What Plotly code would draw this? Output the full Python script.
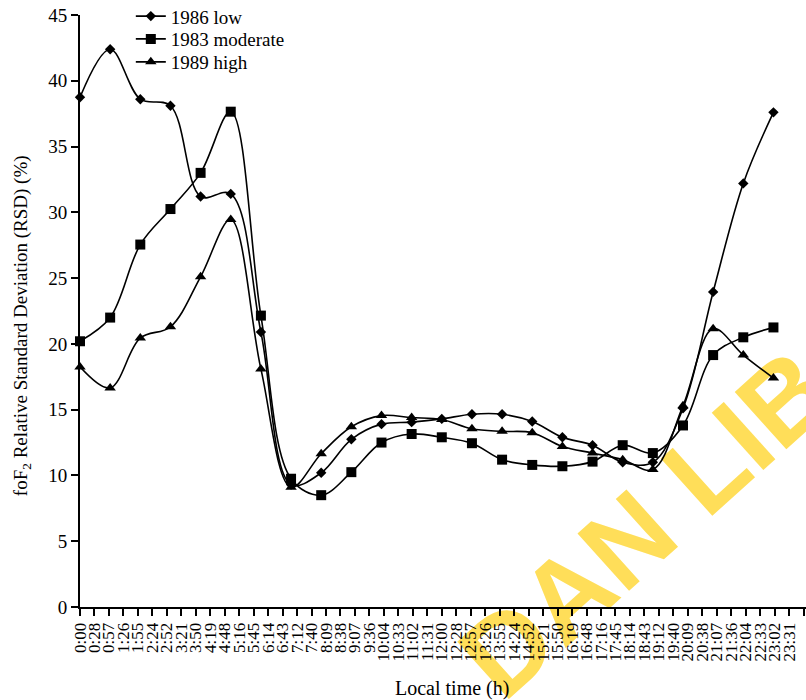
import plotly.graph_objects as go

# Hourly local time (h) of each sample
hours = list(range(24))

# foF2 relative standard deviation (%) for three solar-activity years
rsd_1986_low = [38.75, 42.4, 38.6, 38.1, 31.2, 31.4, 20.9, 9.3, 10.2, 12.75, 13.9, 14.05,
                14.3, 14.65, 14.65, 14.1, 12.9, 12.3, 11.0, 11.0, 15.1, 23.95, 32.2, 37.6]
rsd_1983_moderate = [20.2, 22.0, 27.55, 30.25, 33.0, 37.65, 22.15, 9.75, 8.5, 10.25, 12.5, 13.15,
                     12.9, 12.45, 11.2, 10.8, 10.7, 11.05, 12.3, 11.7, 13.8, 19.15, 20.5, 21.25]
rsd_1989_high = [18.25, 16.65, 20.45, 21.3, 25.1, 29.45, 18.1, 9.1, 11.65, 13.7, 14.55, 14.4,
                 14.25, 13.55, 13.35, 13.25, 12.2, 11.7, 11.2, 10.45, 15.3, 21.15, 19.15, 17.4]

# Time-axis ticks: 50 equal divisions of the day (0.48 h each)
tick_hours = [i * 0.48 for i in range(51)]
tick_labels = ["0:00", "0:28", "0:57", "1:26", "1:55", "2:24", "2:52", "3:21", "3:50", "4:19",
               "4:48", "5:16", "5:45", "6:14", "6:43", "7:12", "7:40", "8:09", "8:38", "9:07",
               "9:36", "10:04", "10:33", "11:02", "11:31", "12:00", "12:28", "12:57", "13:26",
               "13:55", "14:24", "14:52", "15:21", "15:50", "16:19", "16:48", "17:16", "17:45",
               "18:14", "18:43", "19:12", "19:40", "20:09", "20:38", "21:07", "21:36", "22:04",
               "22:33", "23:02", "23:31", "0:00"]

series = [
    ("1986 low", rsd_1986_low, "diamond", 8),
    ("1983 moderate", rsd_1983_moderate, "square", 10),
    ("1989 high", rsd_1989_high, "triangle-up", 10),
]

SERIF = "Liberation Serif, Times New Roman, serif"

# one legend box per series so the rows sit close together
legend_ids = ["legend", "legend2", "legend3"]
legend_tops = [1.0300, 0.9915, 0.9527]

fig = go.Figure()
for (name, values, symbol, size), lid in zip(series, legend_ids):
    fig.add_trace(go.Scatter(
        x=hours, y=values, name=name, mode="lines+markers", legend=lid,
        line=dict(color="black", width=1.6, shape="spline", smoothing=1.0),
        marker=dict(symbol=symbol, size=size, color="black", line=dict(width=0)),
        cliponaxis=False,
    ))

legend_style = dict(x=0.07, xanchor="left", yanchor="top", bgcolor="rgba(0,0,0,0)",
                    font=dict(size=19, family=SERIF), itemwidth=30)

fig.update_layout(
    width=806, height=700,
    margin=dict(l=80, r=0, t=15, b=93, autoexpand=False),
    paper_bgcolor="white", plot_bgcolor="rgba(0,0,0,0)",
    font=dict(family=SERIF, color="black", size=19),
    showlegend=True,
    xaxis=dict(range=[0, 24.08], tickmode="array", tickvals=tick_hours, ticktext=tick_labels,
               tickangle=-90, tickfont=dict(size=17, family=SERIF),
               showline=True, linecolor="black", linewidth=2,
               ticks="outside", ticklen=7, tickwidth=2, tickcolor="black",
               showgrid=False, zeroline=False),
    yaxis=dict(range=[0, 45], dtick=5, tickfont=dict(size=19, family=SERIF),
               showline=True, linecolor="black", linewidth=2,
               ticks="outside", ticklen=7, tickwidth=2, tickcolor="black",
               showgrid=False, zeroline=False),
    annotations=[
        dict(text="foF<sub>2</sub> Relative Standard Deviation (RSD) (%)", textangle=-90,
             xref="paper", yref="paper", x=-0.08, y=0.476, xanchor="center", yanchor="middle",
             showarrow=False, font=dict(size=19, family=SERIF)),
        dict(text="Local time (h)", xref="paper", yref="paper", x=0.513, y=-0.137,
             xanchor="center", yanchor="middle", showarrow=False,
             font=dict(size=20, family=SERIF)),
    ],
    shapes=[
        # library watermark, drawn beneath the curves
        dict(type="rect", xref="paper", yref="paper", x0=0.72, x1=0.82, y0=0.105, y1=0.205,
             line=dict(width=0), fillcolor="rgba(0,0,0,0)", layer="below",
             label=dict(text="<b>DAN LIB</b>", textangle=-42, textposition="middle center",
                        font=dict(size=112, family="Liberation Sans, Arial, sans-serif",
                                  color="rgb(255,222,89)"))),
    ],
)
for lid, top in zip(legend_ids, legend_tops):
    fig.update_layout({lid: dict(legend_style, y=top)})

fig.write_html("out.html")
